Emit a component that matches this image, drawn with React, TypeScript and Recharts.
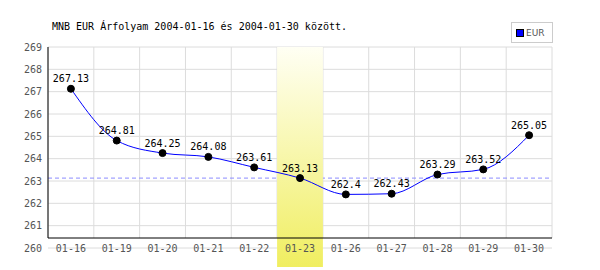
import {
  ComposedChart,
  Line,
  XAxis,
  YAxis,
  CartesianGrid,
  ReferenceLine,
  ReferenceArea,
  LabelList,
} from 'recharts';

const dates = ['01-16', '01-19', '01-20', '01-21', '01-22', '01-23', '01-26', '01-27', '01-28', '01-29', '01-30'];
const eurRates = [267.13, 264.81, 264.25, 264.08, 263.61, 263.13, 262.4, 262.43, 263.29, 263.52, 265.05];
const yTicks = [260, 261, 262, 263, 264, 265, 266, 267, 268, 269];
const highlightDate = '01-23';

const chartData = dates.map((d, i) => ({ date: d, eur: eurRates[i] }));
const highlightValue = eurRates[dates.indexOf(highlightDate)];

const mono = '"DejaVu Sans Mono", monospace';

export default function App() {
  // Column boundaries for the vertical grid
  const columnLines = ({ offset }: any) =>
    Array.from({ length: dates.length + 1 }, (_, i) => offset.left + (i * offset.width) / dates.length);

  const XTick = ({ x, y, payload }: any) => (
    <text x={x} y={y} textAnchor="middle" dominantBaseline="central" fontFamily={mono} fontSize={10} fill="#555">
      {payload.value}
    </text>
  );

  const ValueLabel = ({ x, y, value }: any) => (
    <text x={x} y={y - 10} textAnchor="middle" dominantBaseline="central" fontFamily={mono} fontSize={10} fill="#000">
      {value}
    </text>
  );

  const Highlight = ({ x, y, width, height }: any) => (
    <rect x={x} y={y} width={width} height={height + 19} fill="url(#hlGrad)" />
  );

  return (
    <div style={{ position: 'absolute', left: 0, top: 0, width: 600, height: 270, background: '#fff' }}>
      <div
        style={{
          position: 'absolute',
          left: 52,
          top: 21,
          fontFamily: mono,
          fontSize: 10,
          color: '#000',
          whiteSpace: 'nowrap',
        }}
      >
        MNB EUR Árfolyam 2004-01-16 és 2004-01-30 között.
      </div>
      <div
        style={{
          position: 'absolute',
          left: 511,
          top: 22,
          width: 40,
          height: 19,
          border: '1px solid #ccc',
          display: 'flex',
          alignItems: 'center',
          fontFamily: '"DejaVu Sans", sans-serif',
          fontSize: 9,
          color: '#555',
        }}
      >
        <span style={{ display: 'inline-block', width: 6, height: 6, background: '#0000ff', border: '1px solid #000', marginLeft: 4, marginRight: 2 }} />
        EUR
      </div>
      <ComposedChart width={600} height={270} data={chartData} margin={{ top: 47, right: 48, bottom: 0, left: 0 }}>
        <defs>
          <linearGradient id="hlGrad" x1="0" y1="0" x2="0" y2="1">
            <stop offset="0%" stopColor="#fffff4" />
            <stop offset="100%" stopColor="#f0ee60" />
          </linearGradient>
        </defs>
        <CartesianGrid vertical={false} stroke="#dcdcdc" />
        <CartesianGrid horizontal={false} stroke="#dcdcdc" strokeDasharray="191 300" verticalCoordinatesGenerator={columnLines} />
        <ReferenceLine y={highlightValue} stroke="#8c8cff" strokeDasharray="4 3" zIndex={-50} />
        <ReferenceArea x1={highlightDate} x2={highlightDate} shape={<Highlight />} zIndex={100} ifOverflow="visible" />
        <XAxis
          dataKey="date"
          scale="band"
          height={22}
          tickLine={false}
          tickSize={0}
          tickMargin={0}
          tick={<XTick />}
          interval={0}
          axisLine={{ stroke: '#000', transform: 'translate(0,-10)' }}
        />
        <YAxis
          width={48}
          domain={[260, 269]}
          ticks={yTicks}
          interval={0}
          tickLine={false}
          tickSize={0}
          tickMargin={6}
          axisLine={{ stroke: '#000', strokeDasharray: '191 300' }}
          tick={{ fontFamily: mono, fontSize: 10, fill: '#555' }}
        />
        <Line
          type="monotone"
          dataKey="eur"
          stroke="#0000ff"
          strokeWidth={1}
          dot={{ r: 3.5, fill: '#000', stroke: '#000', strokeWidth: 1 }}
          activeDot={false}
          isAnimationActive={false}
        >
          <LabelList dataKey="eur" content={<ValueLabel />} />
        </Line>
      </ComposedChart>
    </div>
  );
}
